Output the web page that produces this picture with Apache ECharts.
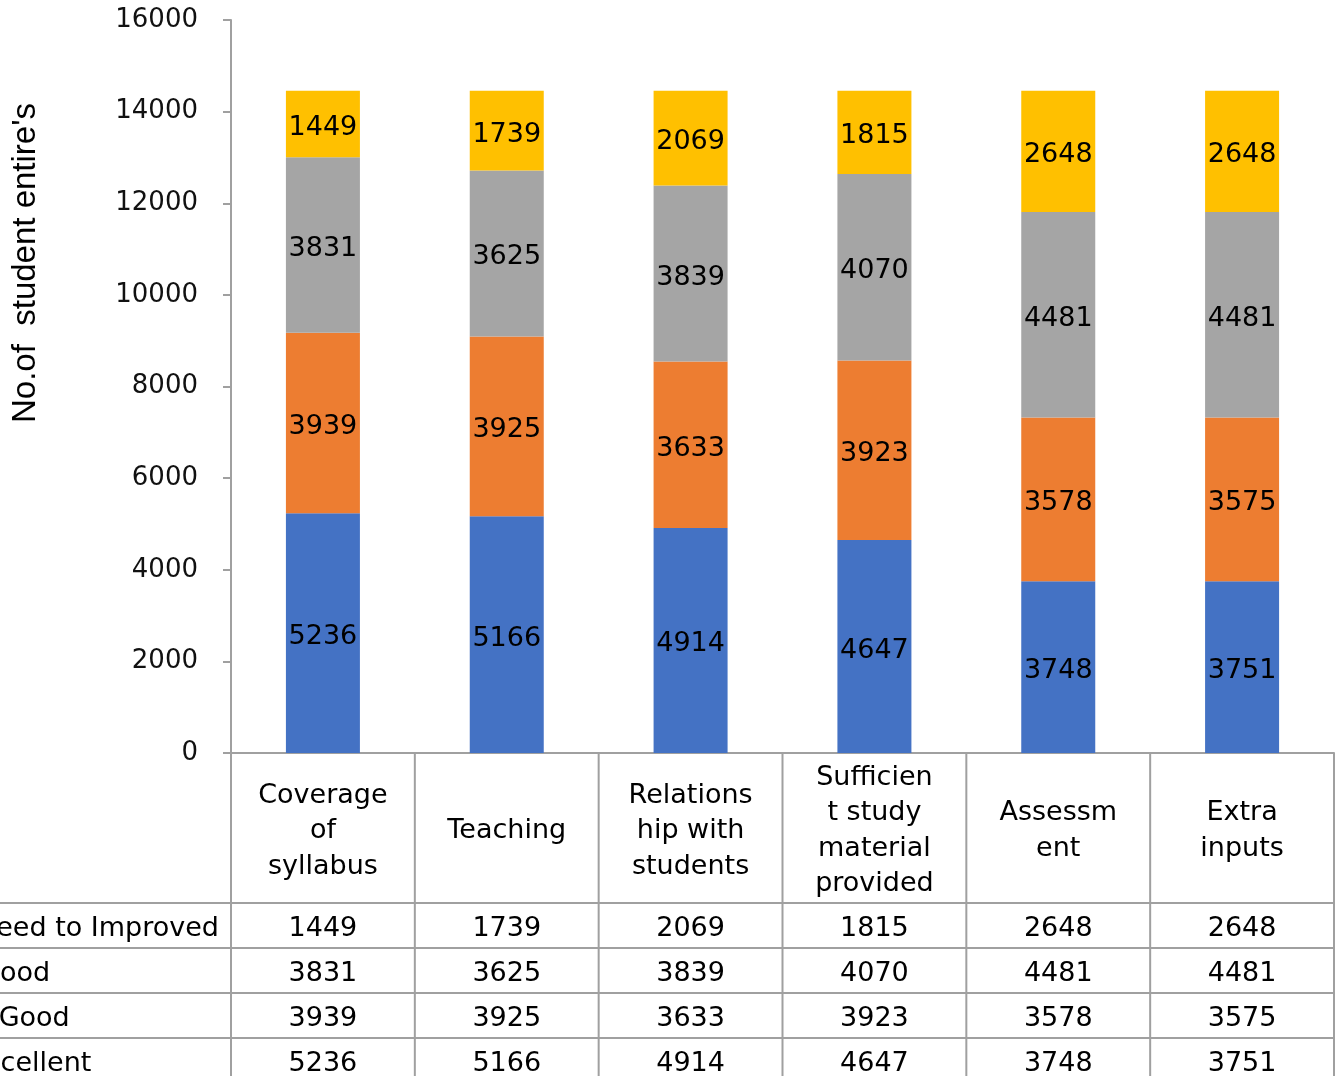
<!DOCTYPE html>
<html>
<head>
<meta charset="utf-8">
<script src="https://cdn.jsdelivr.net/npm/echarts@6/dist/echarts.min.js"></script>
<style>
  html, body { margin: 0; padding: 0; background: #fff; }
  #chart { width: 1336px; height: 1076px; }
</style>
</head>
<body>
<div id="chart"></div>
<script>
  // data
  const categories = ['Coverage\nof\nsyllabus', 'Teaching', 'Relations\nhip with\nstudents',
    'Sufficien\nt study\nmaterial\nprovided', 'Assessm\nent', 'Extra\ninputs'];
  const excellent = [5236, 5166, 4914, 4647, 3748, 3751];
  const veryGood = [3939, 3925, 3633, 3923, 3578, 3575];
  const good = [3831, 3625, 3839, 4070, 4481, 4481];
  const needToImproved = [1449, 1739, 2069, 1815, 2648, 2648];
  const yMin = 0, yMax = 16000, yStep = 2000;
  const yTitle = "No.of  student entire's";

  // table rows, top to bottom (like the excel data table)
  const tableRows = [
    { name: 'Need to Improved', values: needToImproved },
    { name: 'Good', values: good },
    { name: 'Very Good', values: veryGood },
    { name: 'Excellent', values: excellent }
  ];

  // layout only
  const rowLabelX = [-24, -21, -70, -32];
  const gridLine = '#a0a0a0';
  const font = 'DejaVu Sans';

  const chart = echarts.init(document.getElementById('chart'));

  function barSeries(name, data, color) {
    return {
      name: name,
      type: 'bar',
      stack: 'total',
      barWidth: 74,
      data: data,
      itemStyle: { color: color },
      label: {
        show: true,
        position: 'inside',
        offset: [0, 4],
        color: '#000',
        fontFamily: font,
        fontSize: 27,
        textBorderWidth: 0
      }
    };
  }

  const option = {
    animation: false,
    backgroundColor: '#fff',
    grid: { left: 231, right: 2, top: 20, bottom: 323 },
    xAxis: {
      type: 'category',
      data: categories,
      axisLine: { show: true, lineStyle: { color: gridLine, width: 2 } },
      axisTick: { show: false },
      axisLabel: { show: false },
      splitLine: { show: false }
    },
    yAxis: {
      type: 'value',
      min: yMin,
      max: yMax,
      interval: yStep,
      axisLine: { show: true, lineStyle: { color: gridLine, width: 2 } },
      axisTick: { show: true, inside: false, length: 8, lineStyle: { color: gridLine, width: 2 } },
      axisLabel: {
        color: '#111', fontFamily: font, fontSize: 26, margin: 33,
        padding: [6, 0, 0, 0],
        formatter: function (v) { return String(v); }
      },
      splitLine: { show: false }
    },
    series: [
      barSeries('Excellent', excellent, '#4472C4'),
      barSeries('Very Good', veryGood, '#ED7D31'),
      barSeries('Good', good, '#A5A5A5'),
      barSeries('Need to Improved', needToImproved, '#FFC000')
    ]
  };
  chart.setOption(option);

  // data table under the plot
  const H = 1076;
  const y0 = chart.convertToPixel({ yAxisIndex: 0 }, 0);
  const c0 = chart.convertToPixel({ xAxisIndex: 0 }, 0);
  const c1 = chart.convertToPixel({ xAxisIndex: 0 }, 1);
  const band = c1 - c0;
  const headerH = 150, rowH = 45;
  const g = [];

  function line(x1, y1, x2, y2) {
    g.push({ type: 'line', silent: true, shape: { x1: x1, y1: y1, x2: x2, y2: y2 },
      style: { stroke: gridLine, lineWidth: 2 } });
  }
  function text(str, x, y, align) {
    g.push({ type: 'text', silent: true, x: x, y: y + 3,
      style: { text: str, font: '27px "' + font + '"', fill: '#000',
        align: align, verticalAlign: 'middle', textAlign: align, textVerticalAlign: 'middle',
        lineHeight: 35.5 } });
  }

  // vertical lines
  for (let i = 0; i <= categories.length; i++) {
    const x = c0 - band / 2 + i * band;
    line(x, y0, x, H);
  }
  // horizontal lines
  for (let r = 0; r < tableRows.length; r++) {
    const y = y0 + headerH + r * rowH;
    line(0, y, c0 - band / 2 + categories.length * band, y);
  }
  // header
  categories.forEach(function (c, i) {
    text(c, chart.convertToPixel({ xAxisIndex: 0 }, i), y0 + 75, 'center');
  });
  // rows
  tableRows.forEach(function (row, r) {
    const yc = y0 + headerH + r * rowH + rowH / 2;
    text(row.name, rowLabelX[r], yc, 'left');
    row.values.forEach(function (v, i) {
      text(String(v), chart.convertToPixel({ xAxisIndex: 0 }, i), yc, 'center');
    });
  });
  // y axis title
  g.push({ type: 'text', silent: true, x: 26, y: 263, rotation: Math.PI / 2,
    style: { text: yTitle, font: '33px "Liberation Sans Narrow", "Liberation Sans"', fill: '#000',
      align: 'center', verticalAlign: 'middle', textAlign: 'center', textVerticalAlign: 'middle' } });

  chart.setOption({ graphic: g });
</script>
</body>
</html>
